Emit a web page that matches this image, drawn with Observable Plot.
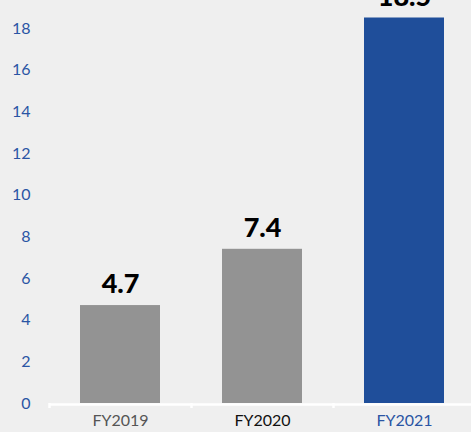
<!DOCTYPE html>
<html>
<head>
<meta charset="utf-8">
<script src="https://cdn.jsdelivr.net/npm/d3@7"></script>
<script src="https://cdn.jsdelivr.net/npm/@observablehq/plot@0.6"></script>
<style>
  html, body { margin: 0; padding: 0; background: #efefef; overflow: hidden; }
  #chart { width: 471px; height: 432px; overflow: hidden; }
  #chart svg { max-width: none !important; }
</style>
</head>
<body>
<div id="chart"></div>
<script>
const categories = ["FY2019", "FY2020", "FY2021"];
const values = [4.7, 7.4, 18.5];
const labels = ["4.7", "7.4", "18.5"];
const yTicks = [0, 2, 4, 6, 8, 10, 12, 14, 16, 18];
const barColors = ["#939393", "#939393", "#1f4e9a"];
const labelColors = ["#555555", "#111111", "#2a55a4"];

const data = categories.map((c, i) => ({cat: c, value: values[i], label: labels[i], bar: barColors[i], tc: labelColors[i]}));

const W = 475;
const step = (W - 49) / categories.length;

const chart = Plot.plot({
  width: W,
  height: 432,
  marginLeft: 49,
  marginRight: 0,
  marginTop: 17.5,
  marginBottom: 29,
  style: {background: "#efefef", fontFamily: "Lato, 'Noto Sans', sans-serif", overflow: "visible", maxWidth: "none"},
  x: {domain: categories, paddingInner: 0.44, paddingOuter: 0.22, axis: null},
  y: {domain: [0, 18.5], axis: null},
  marks: [
    Plot.barY(data, {x: "cat", y: "value", fill: d => d.bar}),
    Plot.ruleY([0], {stroke: "white", strokeWidth: 2.5, dy: 1}),
    Plot.ruleX(data, {x: "cat", y1: 0, y2: 0, dx: -step / 2, insetBottom: -5, stroke: "white", strokeWidth: 2.5}),
    Plot.text(yTicks, {x: null, y: d => d, text: d => String(d), frameAnchor: "left", textAnchor: "end", dx: -19, fill: "#2a55a4", fontSize: 16}),
    Plot.text(data, {x: "cat", y: 0, text: "cat", dy: 17, fill: d => d.tc, fontSize: 16}),
    Plot.text(data, {x: "cat", y: "value", text: "label", dy: -21, fill: "#000", fontSize: 27, fontWeight: 900})
  ]
});
document.getElementById("chart").append(chart);
</script>
</body>
</html>
